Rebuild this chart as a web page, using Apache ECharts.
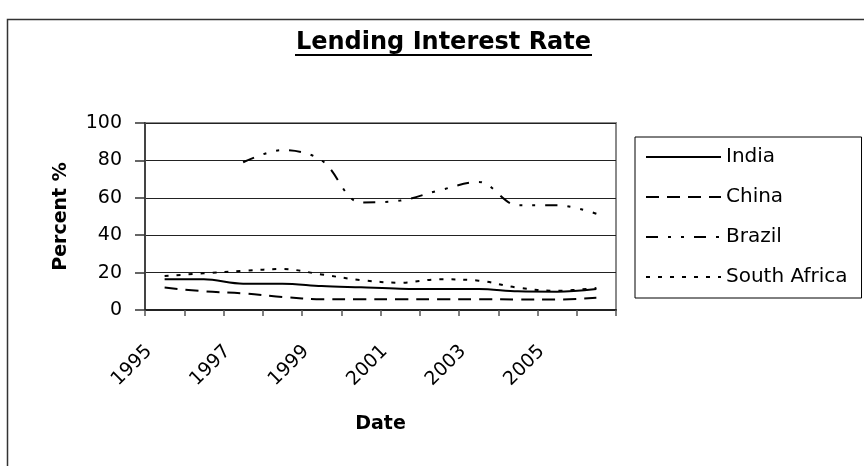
<!DOCTYPE html>
<html>
<head>
<meta charset="utf-8">
<script src="https://cdn.jsdelivr.net/npm/echarts@6/dist/echarts.min.js"></script>
<style>
  html, body { margin: 0; padding: 0; background: #fff; }
  #chart { width: 864px; height: 466px; }
</style>
</head>
<body>
<div id="chart"></div>
<script>
var years = ['1995','1996','1997','1998','1999','2000','2001','2002','2003','2004','2005','2006'];
var india = [16.4, 16.4, 14.1, 14.1, 12.8, 12.1, 11.4, 11.2, 11.2, 10.0, 9.8, 11.2];
var china = [12.0, 10.0, 8.9, 7.0, 5.8, 5.8, 5.8, 5.8, 5.8, 5.6, 5.6, 6.5];
var brazil = [null, null, 79.0, 85.5, 80.0, 57.5, 58.5, 64.0, 68.5, 56.0, 56.0, 51.5];
var southAfrica = [18.2, 19.6, 20.9, 21.9, 19.0, 16.0, 14.6, 16.4, 15.7, 11.9, 10.3, 11.8];
var yTicks = [0, 20, 40, 60, 80, 100];

var FONT = 'DejaVu Sans';
var chart = echarts.init(document.getElementById('chart'), null, { renderer: 'canvas' });

function lineSeries(name, data, type) {
  return {
    name: name,
    type: 'line',
    data: data,
    symbol: 'none',
    smooth: 0.35,
    connectNulls: false,
    lineStyle: { color: '#000', width: 2, type: type },
    itemStyle: { color: '#000' },
    emphasis: { disabled: true }
  };
}

chart.setOption({
  animation: false,
  backgroundColor: '#fff',
  grid: {
    left: 145, right: 248, top: 123, bottom: 156,
    show: true, borderColor: '#8a8a8a', borderWidth: 2, backgroundColor: '#fff'
  },
  graphic: [
    { type: 'rect', shape: { x: 7.5, y: 19.5, width: 1000, height: 600 },
      style: { fill: 'none', stroke: '#333', lineWidth: 1.5 }, silent: true, z: 0 },
    { type: 'text', x: 443.5, y: 42.5,
      style: { text: 'Lending Interest Rate', font: 'bold 24px "DejaVu Sans"', fill: '#000',
               align: 'center', verticalAlign: 'middle' }, z: 10 },
    { type: 'line', shape: { x1: 295, y1: 55, x2: 592, y2: 55 },
      style: { stroke: '#000', lineWidth: 2 }, z: 10 }
  ],
  legend: {
    orient: 'vertical',
    left: 635, top: 137,
    padding: [10, 14, 11, 10],
    borderColor: '#000', borderWidth: 1,
    itemWidth: 75, itemHeight: 14, itemGap: 20,
    itemStyle: { opacity: 0 },
    textStyle: { fontFamily: FONT, fontSize: 20, lineHeight: 20, color: '#000' },
    data: ['India', 'China', 'Brazil', 'South Africa']
  },
  xAxis: {
    type: 'category',
    data: years,
    boundaryGap: true,
    name: 'Date',
    nameLocation: 'middle',
    nameGap: 105,
    nameTextStyle: { fontFamily: FONT, fontSize: 19, fontWeight: 'bold', color: '#000' },
    axisLine: { show: true, lineStyle: { color: '#222', width: 2 } },
    axisTick: { show: true, length: 6, interval: 0, lineStyle: { color: '#555', width: 1.5 } },
    axisLabel: {
      interval: 1, rotate: 45, margin: 23,
      padding: [0, 22, 44, 0],
      fontFamily: FONT, fontSize: 19, color: '#000'
    },
    splitLine: { show: false }
  },
  yAxis: {
    type: 'value',
    min: yTicks[0], max: yTicks[yTicks.length - 1], interval: 20,
    name: 'Percent %',
    nameLocation: 'middle',
    nameGap: 74,
    nameTextStyle: { fontFamily: FONT, fontSize: 19, fontWeight: 'bold', color: '#000' },
    axisLine: { show: true, lineStyle: { color: '#444', width: 2 } },
    axisTick: { show: true, length: 10, lineStyle: { color: '#333', width: 1.5 } },
    axisLabel: { margin: 23, fontFamily: FONT, fontSize: 19, color: '#000' },
    splitLine: { show: true, lineStyle: { color: '#222', width: 1 } }
  },
  series: [
    lineSeries('India', india, 'solid'),
    lineSeries('China', china, [13, 8]),
    lineSeries('Brazil', brazil, [12, 10, 3, 10, 3, 10]),
    lineSeries('South Africa', southAfrica, [4, 8])
  ]
});
</script>
</body>
</html>
